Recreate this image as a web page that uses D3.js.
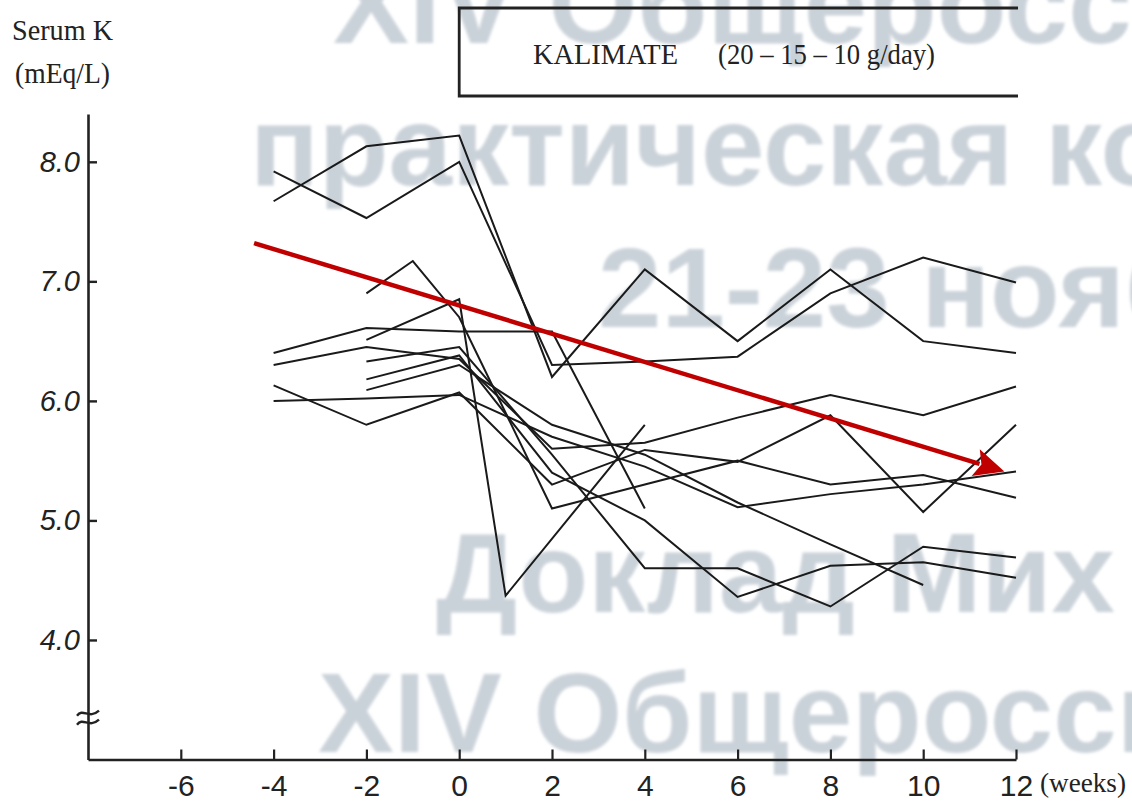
<!DOCTYPE html>
<html>
<head>
<meta charset="utf-8">
<script src="https://cdn.jsdelivr.net/npm/d3@7"></script>
<style>
  html, body { margin: 0; padding: 0; background: #fff; }
  svg { display: block; }
</style>
</head>
<body>
<div id="chart"></div>
<script>
const weeks = [-4, -2, -1, 0, 1, 2, 4, 6, 8, 10, 12];

// serum K per patient, aligned with weeks (null = not measured)
const patients = [
    [7.67, 8.13, null, 8.22, null, 6.20, 7.10, 6.50, 7.10, 6.50, 6.40],
    [7.92, 7.53, null, 8.00, null, 6.30, 6.33, 6.37, 6.90, 7.20, 6.99],
    [6.40, 6.61, null, 6.58, null, 6.58, 5.10, null, null, null, null],
    [6.30, 6.45, null, 6.35, null, 5.60, 5.65, 5.86, 6.05, 5.88, 6.12],
    [6.13, 5.80, null, 6.07, null, 5.30, 5.59, 5.49, 5.88, 5.07, 5.80],
    [6.00, 6.02, null, 6.05, null, 5.70, 5.45, 5.11, 5.22, 5.30, 5.41],
    [null, 6.51, null, 6.85, 4.37, null, 5.80, null, null, null, null],
    [null, 6.90, 7.17, 6.70, null, 5.10, 5.30, 5.50, 5.30, 5.38, 5.19],
    [null, 6.33, null, 6.45, null, 5.55, 4.60, 4.60, 4.28, 4.78, 4.69],
    [null, 6.18, null, 6.38, null, 5.40, 5.00, 4.36, 4.62, 4.65, 4.52],
    [null, 6.09, null, 6.30, null, 5.80, 5.55, 5.15, 4.80, 4.46, null]
];

const xTicks = [-6, -4, -2, 0, 2, 4, 6, 8, 10, 12];
const yTicks = [4.0, 5.0, 6.0, 7.0, 8.0];

// trend arrow (week, mEq/L)
const trendStart = [-4.42, 7.32];
const trendEnd = [11.75, 5.41];

const watermarkLines = [
    { text: "XIV Общероссийская", x: 333, y: 43 },
    { text: "практическая конференция", x: 250, y: 185 },
    { text: "21-23 ноября", x: 598, y: 327 },
    { text: "Доклад Мих", x: 436, y: 612 },
    { text: "XIV Общероссийская", x: 318, y: 752 }
];

const width = 1132;
const height = 802;

const svg = d3.select('#chart')
    .append('svg')
    .attr('width', width)
    .attr('height', height);

svg.append('rect').attr('width', width).attr('height', height).attr('fill', '#fff');

const defs = svg.append('defs');
defs.append('filter')
    .attr('id', 'soft')
    .append('feGaussianBlur')
    .attr('stdDeviation', 1.4);

// watermark behind everything
svg.append('g')
    .attr('filter', 'url(#soft)')
    .selectAll('text')
    .data(watermarkLines)
    .enter().append('text')
    .attr('x', d => d.x)
    .attr('y', d => d.y)
    .attr('font-family', '"Liberation Sans", Arial, sans-serif')
    .attr('font-weight', 'bold')
    .attr('font-size', 114)
    .attr('fill', '#cad2d9')
    .text(d => d.text);

const x = d3.scaleLinear().domain([-8, 12]).range([88, 1016]);
const y = d3.scaleLinear().domain([3, 8.4]).range([759.5, 114]);

// y axis
const yAxis = svg.append('g')
    .attr('transform', `translate(${x(-8)},0)`)
    .call(d3.axisLeft(y)
        .tickValues(yTicks)
        .tickSizeInner(-9)
        .tickSizeOuter(0)
        .tickPadding(8)
        .tickFormat(d3.format('.1f')));

yAxis.select('.domain').attr('stroke', '#222').attr('stroke-width', 2.6);
yAxis.selectAll('.tick line').attr('stroke', '#222').attr('stroke-width', 2.4);
yAxis.selectAll('.tick text')
    .attr('font-family', '"Liberation Sans", Arial, sans-serif')
    .attr('font-style', 'italic')
    .attr('font-size', 29)
    .attr('fill', '#222');

// x axis
const xAxis = svg.append('g')
    .attr('transform', `translate(0,${y(3)})`)
    .call(d3.axisBottom(x)
        .tickValues(xTicks)
        .tickSizeInner(-10)
        .tickSizeOuter(0)
        .tickPadding(15)
        .tickFormat(d => d < 0 ? '-' + Math.abs(d) : String(d)));

xAxis.select('.domain').attr('stroke', '#222').attr('stroke-width', 2.6);
xAxis.selectAll('.tick line').attr('stroke', '#222').attr('stroke-width', 2.2);
xAxis.selectAll('.tick text')
    .attr('font-family', '"Liberation Sans", Arial, sans-serif')
    .attr('font-size', 30)
    .attr('fill', '#222');

// axis break mark
const breakY = y(3.35);
[-5, 4].forEach(off => {
    const yy = breakY + off;
    svg.append('path')
        .attr('d', `M${x(-8) - 11},${yy + 3} C${x(-8) - 5},${yy - 5} ${x(-8) + 1},${yy + 7} ${x(-8) + 11},${yy - 2}`)
        .attr('fill', 'none')
        .attr('stroke', '#222')
        .attr('stroke-width', 2.4);
});

// axis titles
const serif = '"Liberation Serif", "Times New Roman", serif';
svg.append('text').attr('x', 12).attr('y', 40)
    .attr('font-family', serif).attr('font-size', 30)
    .attr('textLength', 101).attr('lengthAdjust', 'spacingAndGlyphs')
    .attr('fill', '#222').text('Serum K');
svg.append('text').attr('x', 15).attr('y', 83)
    .attr('font-family', serif).attr('font-size', 30)
    .attr('textLength', 95).attr('lengthAdjust', 'spacingAndGlyphs')
    .attr('fill', '#222').text('(mEq/L)');
svg.append('text').attr('x', 1040).attr('y', 792)
    .attr('font-family', serif).attr('font-size', 27)
    .attr('textLength', 86).attr('lengthAdjust', 'spacingAndGlyphs')
    .attr('fill', '#222').text('(weeks)');

// treatment box
svg.append('path')
    .attr('d', `M${x(12) + 2},8 H${x(0)} V96 H${x(12) + 2}`)
    .attr('fill', 'none')
    .attr('stroke', '#222')
    .attr('stroke-width', 2.8);
svg.append('text').attr('x', 533).attr('y', 64)
    .attr('font-family', serif).attr('font-size', 29)
    .attr('textLength', 145).attr('lengthAdjust', 'spacingAndGlyphs')
    .attr('fill', '#222').text('KALIMATE');
svg.append('text').attr('x', 718).attr('y', 64)
    .attr('font-family', serif).attr('font-size', 29)
    .attr('textLength', 217).attr('lengthAdjust', 'spacingAndGlyphs')
    .attr('fill', '#222').text('(20 – 15 – 10 g/day)');

// patient lines
const line = d3.line()
    .x(d => x(d[0]))
    .y(d => y(d[1]));

svg.append('g')
    .selectAll('path')
    .data(patients.map(p => weeks.map((w, i) => [w, p[i]]).filter(d => d[1] !== null)))
    .enter().append('path')
    .attr('d', line)
    .attr('fill', 'none')
    .attr('stroke', '#1a1a1a')
    .attr('stroke-width', 2)
    .attr('stroke-linejoin', 'miter');

// red trend arrow
const x1 = x(trendStart[0]), y1 = y(trendStart[1]);
const x2 = x(trendEnd[0]), y2 = y(trendEnd[1]);
const angle = Math.atan2(y2 - y1, x2 - x1);
const headLen = 30, headHalf = 14;
const bx = x2 - headLen * Math.cos(angle), by = y2 - headLen * Math.sin(angle);

svg.append('line')
    .attr('x1', x1).attr('y1', y1)
    .attr('x2', bx + 4 * Math.cos(angle)).attr('y2', by + 4 * Math.sin(angle))
    .attr('stroke', '#c00000')
    .attr('stroke-width', 4.5);

svg.append('polygon')
    .attr('points', [
        [x2, y2],
        [bx + headHalf * Math.sin(angle), by - headHalf * Math.cos(angle)],
        [bx + 6 * Math.cos(angle), by + 6 * Math.sin(angle)],
        [bx - headHalf * Math.sin(angle), by + headHalf * Math.cos(angle)]
    ].map(p => p.join(',')).join(' '))
    .attr('fill', '#c00000');
</script>
</body>
</html>
